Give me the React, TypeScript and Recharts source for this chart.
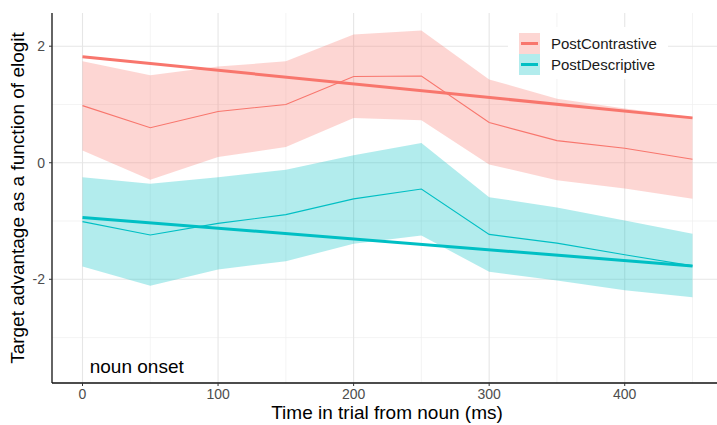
import React from 'react';
import { ComposedChart, Area, Line, XAxis, YAxis, CartesianGrid, ReferenceDot } from 'recharts';

const times = [0, 50, 100, 150, 200, 250, 300, 350, 400, 450];
const contrastMean = [0.98, 0.6, 0.88, 1.0, 1.48, 1.49, 0.69, 0.38, 0.25, 0.06];
const contrastLow = [0.21, -0.29, 0.1, 0.27, 0.77, 0.73, -0.03, -0.3, -0.44, -0.62];
const contrastHigh = [1.74, 1.5, 1.65, 1.74, 2.2, 2.27, 1.43, 1.1, 0.93, 0.78];
const descMean = [-1.01, -1.24, -1.04, -0.89, -0.62, -0.45, -1.23, -1.38, -1.58, -1.77];
const descLow = [-1.78, -2.11, -1.83, -1.69, -1.39, -1.25, -1.87, -2.02, -2.19, -2.31];
const descHigh = [-0.25, -0.36, -0.25, -0.12, 0.13, 0.34, -0.59, -0.77, -0.99, -1.22];
const fitTimes = [0, 450];
const contrastFit = [1.82, 0.77];
const descFit = [-0.94, -1.77];

const xTicks = [0, 100, 200, 300, 400];
const xMinor = [50, 150, 250, 350, 450];
const yTicks = [-2, 0, 2];
const yMinor = [-3, -1, 1];
const seriesNames = ['PostContrastive', 'PostDescriptive'];
const RED = '#F8766D';
const CYAN = '#00BFC4';
const FONT = '"Liberation Sans", Arial, sans-serif';

const data = times.map((t, i) => ({
  t,
  cMean: contrastMean[i],
  cRange: [contrastLow[i], contrastHigh[i]],
  dMean: descMean[i],
  dRange: [descLow[i], descHigh[i]],
}));
const fitData = fitTimes.map((t, i) => ({ t, cFit: contrastFit[i], dFit: descFit[i] }));

const LegendBox = () => (
  <div
    style={{
      position: 'absolute',
      left: 508,
      top: 27,
      width: 160,
      height: 52,
      background: '#fff',
      fontFamily: FONT,
      fontSize: 15,
      color: '#1a1a1a',
    }}
  >
    {seriesNames.map((name, i) => (
      <div key={name} style={{ position: 'absolute', left: 11, top: 6 + i * 21, height: 21, display: 'flex', alignItems: 'center' }}>
        <div style={{ width: 21, height: 21, background: i === 0 ? RED : CYAN, opacity: 0.3, position: 'absolute', left: 0, top: 0 }} />
        <div style={{ position: 'absolute', left: 2, top: 9, width: 17, height: 3, background: i === 0 ? RED : CYAN }} />
        <span style={{ position: 'absolute', left: 32, top: 1, whiteSpace: 'nowrap', lineHeight: '19px' }}>{name}</span>
      </div>
    ))}
  </div>
);

export default function App() {
  return (
    <div style={{ position: 'absolute', left: 0, top: 0, width: 717, height: 425, overflow: 'hidden', background: '#fff' }}>
      <ComposedChart width={725} height={425} data={data} margin={{ top: 13, right: 2, bottom: 0, left: 0 }}>
        <CartesianGrid horizontalValues={yMinor} verticalValues={xMinor} stroke="#EFEFEF" strokeWidth={0.7} />
        <CartesianGrid horizontalValues={yTicks} verticalValues={xTicks} stroke="#E6E6E6" strokeWidth={1.1} />
        <XAxis
          dataKey="t"
          type="number"
          domain={[-22.5, 472.5]}
          ticks={xTicks}
          allowDataOverflow
          height={42}
          tickSize={3}
          tickMargin={3}
          tickLine={{ stroke: '#333' }}
          axisLine={{ stroke: '#111', strokeWidth: 1.3 }}
          tick={{ fill: '#4D4D4D', fontSize: 14, fontFamily: FONT }}
          label={{
            content: () => (
              <text x={387} y={419} textAnchor="middle" fontSize={19} fontFamily={FONT} fill="#000">
                Time in trial from noun (ms)
              </text>
            ),
          }}
        />
        <YAxis
          type="number"
          domain={[-3.78, 2.57]}
          ticks={yTicks}
          allowDataOverflow
          width={52}
          tickSize={3}
          tickMargin={4}
          tickLine={{ stroke: '#333' }}
          axisLine={{ stroke: '#111', strokeWidth: 1.3 }}
          tick={{ fill: '#4D4D4D', fontSize: 14, fontFamily: FONT }}
          label={{
            content: () => (
              <text x={24} y={198} transform="rotate(-90 24 198)" textAnchor="middle" fontSize={19} fontFamily={FONT} fill="#000">
                Target advantage as a function of elogit
              </text>
            ),
          }}
        />
        <Area dataKey="cRange" stroke="none" fill={RED} fillOpacity={0.3} isAnimationActive={false} />
        <Area dataKey="dRange" stroke="none" fill={CYAN} fillOpacity={0.3} isAnimationActive={false} />
        <Line dataKey="cMean" stroke={RED} strokeWidth={1.1} dot={false} isAnimationActive={false} />
        <Line dataKey="dMean" stroke={CYAN} strokeWidth={1.1} dot={false} isAnimationActive={false} />
        <Line data={fitData} dataKey="cFit" stroke={RED} strokeWidth={3} dot={false} isAnimationActive={false} />
        <Line data={fitData} dataKey="dFit" stroke={CYAN} strokeWidth={3} dot={false} isAnimationActive={false} />
        <ReferenceDot
          x={40}
          y={-3.5}
          r={0}
          ifOverflow="visible"
          label={{ value: 'noun onset', position: 'center', fontSize: 19, fontFamily: FONT, fill: '#000' }}
        />
      </ComposedChart>
      <LegendBox />
    </div>
  );
}
